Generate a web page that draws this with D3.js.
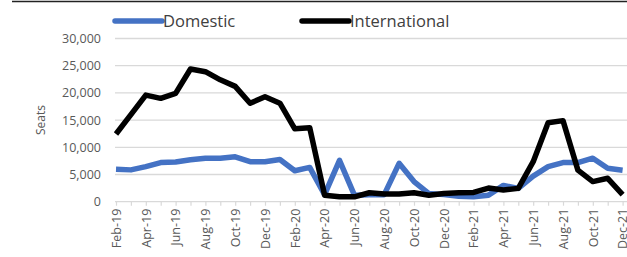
<!DOCTYPE html>
<html>
<head>
<meta charset="utf-8">
<script src="https://cdn.jsdelivr.net/npm/d3@7"></script>
<style>
  body { margin: 0; background: #fff; }
  svg { display: block; font-family: "Open Sans", "Noto Sans", sans-serif; }
</style>
</head>
<body>
<div id="chart_parent"></div>
<script>
const months = ['Feb-19', 'Mar-19', 'Apr-19', 'May-19', 'Jun-19', 'Jul-19', 'Aug-19', 'Sep-19', 'Oct-19', 'Nov-19', 'Dec-19',
    'Jan-20', 'Feb-20', 'Mar-20', 'Apr-20', 'May-20', 'Jun-20', 'Jul-20', 'Aug-20', 'Sep-20', 'Oct-20', 'Nov-20', 'Dec-20',
    'Jan-21', 'Feb-21', 'Mar-21', 'Apr-21', 'May-21', 'Jun-21', 'Jul-21', 'Aug-21', 'Sep-21', 'Oct-21', 'Nov-21', 'Dec-21'];

const domestic = [5950, 5850, 6450, 7200, 7300, 7700, 8000, 8000, 8250, 7350, 7350,
    7750, 5700, 6300, 1300, 7600, 1200, 1300, 1300, 7050, 3700, 1500, 1300,
    1000, 900, 1200, 3000, 2450, 4700, 6450, 7200, 7200, 8000, 6150, 5800];

const international = [12450, 16000, 19600, 19000, 19900, 24400, 23900, 22400, 21200, 18100, 19300,
    18100, 13400, 13600, 1200, 900, 900, 1650, 1400, 1400, 1650, 1200, 1500,
    1650, 1700, 2500, 2150, 2450, 7350, 14500, 14900, 5800, 3700, 4300, 1300];

const yTicks = [0, 5000, 10000, 15000, 20000, 25000, 30000];

const series = [
    { name: 'Domestic', values: domestic, colour: '#4472C4' },
    { name: 'International', values: international, colour: '#000000' },
];

const config = {
    width: 627,
    height: 257,
    left: 116,
    step: 14.9,
    yTop: 38.5,
    yBottom: 201.7,
    textColour: '#595959',
};

const svg = d3.select('#chart_parent').append('svg')
    .attr('width', config.width)
    .attr('height', config.height);

// page border running across the top
svg.append('line')
    .attr('x1', 12).attr('x2', config.width)
    .attr('y1', 1.5).attr('y2', 1.5)
    .attr('stroke', '#222').attr('stroke-width', 1.6);

const xScale = d3.scalePoint()
    .domain(months)
    .range([config.left, config.left + config.step * (months.length - 1)]);

const yScale = d3.scaleLinear()
    .domain([0, 30000])
    .range([config.yBottom, config.yTop]);

// gridlines
svg.append('g')
    .selectAll('line')
    .data(yTicks.filter(d => d > 0))
    .join('line')
    .attr('x1', config.left - 1).attr('x2', config.width)
    .attr('y1', d => yScale(d)).attr('y2', d => yScale(d))
    .attr('stroke', '#d9d9d9').attr('stroke-width', 1.3);

// y axis labels
const yAxis = d3.axisLeft(yScale)
    .tickValues(yTicks)
    .tickFormat(d3.format(','))
    .tickSize(0)
    .tickPadding(14);

svg.append('g')
    .attr('transform', `translate(${config.left - 1},0)`)
    .call(yAxis)
    .call(g => g.select('.domain').remove())
    .call(g => g.selectAll('text')
        .attr('fill', config.textColour)
        .style('font-size', '12.5px')
        .style('font-family', '"Open Sans", sans-serif'));

svg.append('text')
    .attr('transform', 'translate(45,120) rotate(-90)')
    .attr('text-anchor', 'middle')
    .attr('fill', config.textColour)
    .style('font-size', '12px')
    .text('Seats');

// x axis
const xAxis = d3.axisBottom(xScale)
    .tickSize(4)
    .tickPadding(4)
    .tickFormat((d, i) => (i % 2 === 0 ? d : ''));

svg.append('g')
    .attr('transform', `translate(0,${config.yBottom})`)
    .call(xAxis)
    .call(g => g.select('.domain')
        .attr('d', `M${config.left - 1},0H${config.width}`)
        .attr('stroke', '#d9d9d9').attr('stroke-width', 1.3))
    .call(g => g.selectAll('.tick line').attr('stroke', '#d9d9d9').attr('stroke-width', 1.2))
    .call(g => g.selectAll('.tick text')
        .attr('fill', config.textColour)
        .style('font-size', '12.5px')
        .style('font-family', '"Open Sans", sans-serif')
        .attr('text-anchor', 'end')
        .attr('dy', '0.35em')
        .attr('transform', 'translate(0,4) rotate(-90)')
        .attr('x', -3)
        .attr('y', 0));

// data lines
const line = d3.line()
    .x((d, i) => xScale(months[i]))
    .y(d => yScale(d));

svg.append('g')
    .selectAll('path')
    .data(series)
    .join('path')
    .attr('d', s => line(s.values))
    .attr('fill', 'none')
    .attr('stroke', s => s.colour)
    .attr('stroke-width', 5.5)
    .attr('stroke-linejoin', 'round');

// legend
const legendX = [115, 302];
const legend = svg.append('g')
    .selectAll('g')
    .data(series)
    .join('g')
    .attr('transform', (s, i) => `translate(${legendX[i]},21)`);

legend.append('line')
    .attr('x1', 0).attr('x2', 47)
    .attr('stroke', s => s.colour)
    .attr('stroke-width', 5.5)
    .attr('stroke-linecap', 'round');

legend.append('text')
    .attr('x', 48)
    .attr('dy', '0.35em')
    .attr('fill', '#404040')
    .style('font-size', '16.5px')
    .text(s => s.name);
</script>
</body>
</html>
